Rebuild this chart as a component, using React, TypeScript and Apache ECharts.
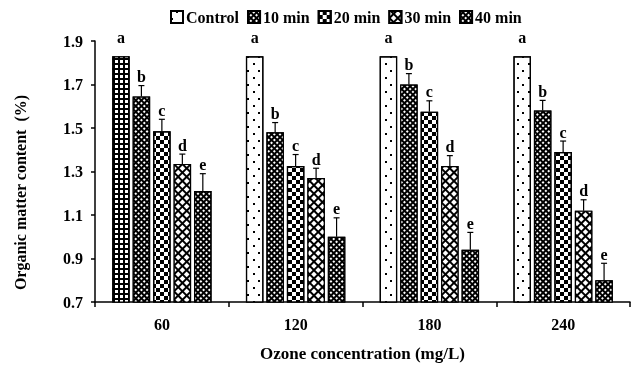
import React, { useEffect, useRef } from "react";
import * as echarts from "echarts";

const categories = ["60", "120", "180", "240"];
const seriesNames = ["Control", "10 min", "20 min", "30 min", "40 min"];
const control = [1.83, 1.83, 1.83, 1.83];
const min10 = [1.645, 1.48, 1.70, 1.58];
const min20 = [1.485, 1.325, 1.575, 1.39];
const min30 = [1.335, 1.27, 1.325, 1.12];
const min40 = [1.21, 1.0, 0.94, 0.8];
const errControl = [0, 0, 0, 0];
const err10 = [0.05, 0.045, 0.05, 0.047];
const err20 = [0.055, 0.053, 0.05, 0.05];
const err30 = [0.045, 0.045, 0.048, 0.05];
const err40 = [0.08, 0.087, 0.08, 0.078];
const letters = ["a", "b", "c", "d", "e"];
const yTicks = [0.7, 0.9, 1.1, 1.3, 1.5, 1.7, 1.9];

const FONT = "'Liberation Serif', 'Times New Roman', serif";
const BAR_W = 17.5;
const BAR_GAP = 0.17;

export default function App() {
  const ref = useRef<HTMLDivElement>(null);
  useEffect(() => {
    if (!ref.current) return;
    const chart = echarts.init(ref.current, null, { renderer: "svg" });
    const values = [control, min10, min20, min30, min40];
    const errors = [errControl, err10, err20, err30, err40];

    const decals: any[] = [
      { symbol: "rect", color: "#000", dashArrayX: [[1.2, 8.8], [0, 5, 1.2, 3.8]], dashArrayY: [1.2, 4.5], symbolSize: 1 },
      { symbol: "rect", color: "#fff", dashArrayX: [1.2, 1.6], dashArrayY: [1.2, 1.6], rotation: Math.PI / 4 },
      { symbol: "rect", color: "#000", dashArrayX: [[3.8, 3.8], [0, 3.8, 3.8, 0]], dashArrayY: [3.8, 0] },
      { symbol: "rect", color: "#fff", dashArrayX: [3.6, 1.1], dashArrayY: [3.6, 1.1], rotation: Math.PI / 4 },
      { symbol: "rect", color: "#fff", dashArrayX: [1.6, 1.4], dashArrayY: [1.6, 1.4], rotation: Math.PI / 4 },
    ];
    const fills = ["#fff", "#000", "#fff", "#000", "#000"];
    const gridDecal = { symbol: "rect", color: "#fff", dashArrayX: [2.3, 1.2], dashArrayY: [2.3, 1.2] };

    const barSeries = seriesNames.map((name, si) => ({
      name,
      type: "bar",
      barWidth: BAR_W,
      barGap: BAR_GAP * 100 + "%",
      itemStyle: { color: fills[si], borderColor: "#000", borderWidth: 1.2, decal: decals[si] },
      data: values[si].map((v, ci) =>
        si === 0 && ci === 0
          ? { value: v, itemStyle: { color: "#000", decal: gridDecal } }
          : v
      ),
    }));

    const errData: number[][] = [];
    values.forEach((arr, si) => arr.forEach((v, ci) => errData.push([ci, si, v, errors[si][ci]])));

    const gapPx = BAR_W * BAR_GAP;
    const total = 5 * BAR_W + 4 * gapPx;

    const errSeries = {
      type: "custom",
      silent: true,
      z: 5,
      encode: { x: 0, y: 2 },
      data: errData,
      renderItem: (params: any, api: any) => {
        const ci = api.value(0);
        const si = api.value(1);
        const v = api.value(2);
        const e = api.value(3);
        const base = api.coord([ci, v]);
        const top = api.coord([ci, v + e]);
        const cx = base[0] - total / 2 + BAR_W / 2 + si * (BAR_W + gapPx);
        const children: any[] = [];
        if (e > 0) {
          children.push({ type: "line", shape: { x1: cx, y1: base[1], x2: cx, y2: top[1] }, style: { stroke: "#000", lineWidth: 1.2 } });
          children.push({ type: "line", shape: { x1: cx - 3, y1: top[1], x2: cx + 3, y2: top[1] }, style: { stroke: "#000", lineWidth: 1.2 } });
        }
        const ty = e > 0 ? top[1] - 1 : base[1] - 11;
        children.push({
          type: "text",
          style: { text: letters[si], x: cx, y: ty, align: "center", verticalAlign: "bottom", fill: "#000", font: `bold 16px ${FONT}` },
        });
        return { type: "group", children };
      },
    };

    chart.setOption({
      animation: false,
      textStyle: { fontFamily: FONT },
      legend: {
        data: seriesNames,
        left: 165,
        top: 4,
        itemWidth: 12,
        itemHeight: 12,
        itemGap: 8,
        icon: "rect",
        textStyle: { fontFamily: FONT, fontSize: 16, fontWeight: "bold", color: "#000", padding: [0, 0, 0, -2] },
      },
      grid: { left: 95, right: 4, top: 41, bottom: 62, containLabel: false },
      xAxis: {
        type: "category",
        data: categories,
        axisLine: { lineStyle: { color: "#000", width: 1.5 } },
        axisTick: { show: true, length: 5, lineStyle: { color: "#000", width: 1.5 } },
        axisLabel: { color: "#000", fontFamily: FONT, fontSize: 16, fontWeight: "bold", margin: 14 },
        name: "Ozone concentration (mg/L)",
        nameLocation: "middle",
        nameGap: 43,
        nameTextStyle: { color: "#000", fontFamily: FONT, fontSize: 17, fontWeight: "bold" },
      },
      yAxis: {
        type: "value",
        min: yTicks[0],
        max: yTicks[yTicks.length - 1],
        interval: 0.2,
        axisLine: { show: true, lineStyle: { color: "#000", width: 1.5 } },
        axisTick: { show: true, length: 4, lineStyle: { color: "#000", width: 1.5 } },
        splitLine: { show: false },
        axisLabel: { color: "#000", fontFamily: FONT, fontSize: 16, fontWeight: "bold", margin: 12, formatter: (v: number) => v.toFixed(1) },
        name: "Organic matter content  (%)",
        nameLocation: "middle",
        nameGap: 67,
        nameTextStyle: { color: "#000", fontFamily: FONT, fontSize: 16, fontWeight: "bold", padding: [0, 42, 0, 0] },
      },
      series: [...barSeries, errSeries],
    });
    return () => chart.dispose();
  }, []);
  return <div ref={ref} style={{ position: "fixed", left: 0, top: 0, width: 634, height: 367 }} />;
}
